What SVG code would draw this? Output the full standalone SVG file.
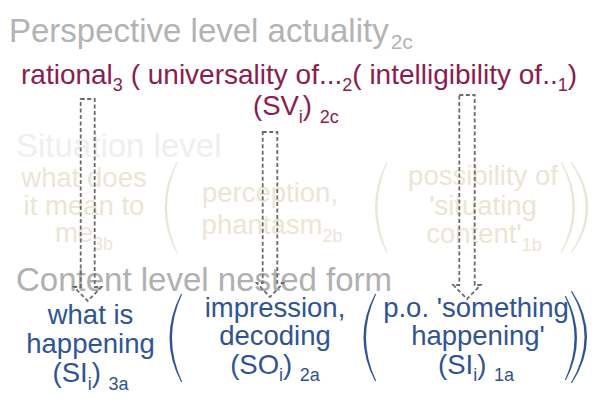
<svg xmlns="http://www.w3.org/2000/svg" width="600" height="400" viewBox="0 0 600 400">
<style>
text{font-family:"Liberation Sans",Arial,sans-serif}
.hdr{font-size:33px}
.t1{fill:#b3b3b3}
.t2{fill:#efefef}
.t3{fill:#b0b0b0}
.bg{font-size:27.5px;fill:#ece5d6}
.mr{font-size:28px;fill:#8c1c4f}
.bl{font-size:27.5px;fill:#2f5496}
.sub{font-size:18px}
.hsub{font-size:21px}
.pb{fill:#ece5d6}
.pl{fill:#2f5496}
.arr{fill:none;stroke:#6b6b6b;stroke-width:1.8;stroke-dasharray:4 2.5}
</style>
<rect width="600" height="400" fill="#ffffff"/>
<g id="perspective-level">
<text class="hdr t1" x="9" y="42">Perspective level actuality<tspan class="hsub" dx="2" dy="6.5">2c</tspan></text>
<text class="mr" x="21" y="84">rational<tspan class="sub" dy="7">3</tspan><tspan dy="-7"> ( universality of...</tspan><tspan class="sub" dy="7">2</tspan><tspan dy="-7">( intelligibility of..</tspan><tspan class="sub" dy="7">1</tspan><tspan dy="-7">)</tspan></text>
<text class="mr" x="253" y="115" style="font-size:27.5px">(SV<tspan class="sub" dy="8">i</tspan><tspan dy="-8">) </tspan><tspan class="sub" dy="8">2c</tspan></text>
</g>
<g id="situation-level">
<text class="hdr t2" x="16" y="157">Situation level</text>
<g id="s3b">
<text class="bg" text-anchor="middle" x="84" y="187">what does</text>
<text class="bg" text-anchor="middle" x="84" y="214.5">it mean to</text>
<text class="bg" text-anchor="middle" x="84" y="242">me<tspan class="sub" dy="8">3b</tspan></text>
</g>
<g id="s2b">
<text class="bg" text-anchor="middle" x="270" y="202">perception,</text>
<text class="bg" text-anchor="middle" x="272" y="234">phantasm<tspan class="sub" dy="8">2b</tspan></text>
</g>
<g id="s1b">
<text class="bg" text-anchor="middle" x="483" y="185">possibility of</text>
<text class="bg" text-anchor="middle" x="483" y="214.5">'situating</text>
<text class="bg" text-anchor="middle" x="484" y="243">content'<tspan class="sub" dy="8">1b</tspan></text>
</g>
<g id="situation-brackets">
<path class="pb" d="M176.5,162 Q152.7,207.5 176.5,253 L177.7,253 Q156.5,207.5 177.7,162 Z"/>
<path class="pb" d="M386.5,162 Q363.5,207.5 386.5,253 L387.7,253 Q367.3,207.5 387.7,162 Z"/>
<path class="pb" d="M561.7,162 Q588.3,207.5 561.7,253 L560.5,253 Q584.5,207.5 560.5,162 Z"/>
<path class="pb" d="M571.7,162 Q604.9,207.5 571.7,253 L570.5,253 Q601.1,207.5 570.5,162 Z"/>
</g>
</g>
<g id="content-level">
<text class="hdr t3" x="16" y="291">Content level nested form</text>
<g id="c3a">
<text class="bl" text-anchor="middle" x="90.5" y="323.5">what is</text>
<text class="bl" text-anchor="middle" x="90.5" y="353">happening</text>
<text class="bl" text-anchor="middle" x="90.5" y="382">(SI<tspan class="sub" dy="7.5">i</tspan><tspan dy="-7.5">) </tspan><tspan class="sub" dy="7.5">3a</tspan></text>
</g>
<g id="c2a">
<text class="bl" text-anchor="middle" x="275" y="316.5">impression,</text>
<text class="bl" text-anchor="middle" x="275" y="345">decoding</text>
<text class="bl" text-anchor="middle" x="275" y="373.5">(SO<tspan class="sub" dy="7.5">i</tspan><tspan dy="-7.5">) </tspan><tspan class="sub" dy="7.5">2a</tspan></text>
</g>
<g id="c1a">
<text class="bl" text-anchor="middle" x="476" y="316.5">p.o. 'something</text>
<text class="bl" text-anchor="middle" x="478" y="345">happening'</text>
<text class="bl" text-anchor="middle" x="476" y="373.5">(SI<tspan class="sub" dy="7.5">i</tspan><tspan dy="-7.5">) </tspan><tspan class="sub" dy="7.5">1a</tspan></text>
</g>
<g id="content-brackets">
<path class="pl" d="M181,294 Q158,338 181,382 L182.2,382 Q161.8,338 182.2,294 Z"/>
<path class="pl" d="M375,294 Q352,337.5 375,381 L376.2,381 Q355.8,337.5 376.2,294 Z"/>
<path class="pl" d="M566,296 Q588,338 566,380 L564.8,380 Q584.2,338 564.8,296 Z"/>
<path class="pl" d="M572,291 Q602,337 572,383 L570.8,383 Q598.2,337 570.8,291 Z"/>
</g>
</g>
<g id="connectors">
<path class="arr" d="M80.7,99 H94.7 V287 H101.4 L87.7,301 L74,287 H80.7 Z"/>
<path class="arr" d="M262.7,132 H277.3 V283 H283.3 L270,297 L256.7,283 H262.7 Z"/>
<path class="arr" d="M459.3,95 H474.7 V285 H480.7 L467,299 L453.3,285 H459.3 Z"/>
</g>
</svg>
